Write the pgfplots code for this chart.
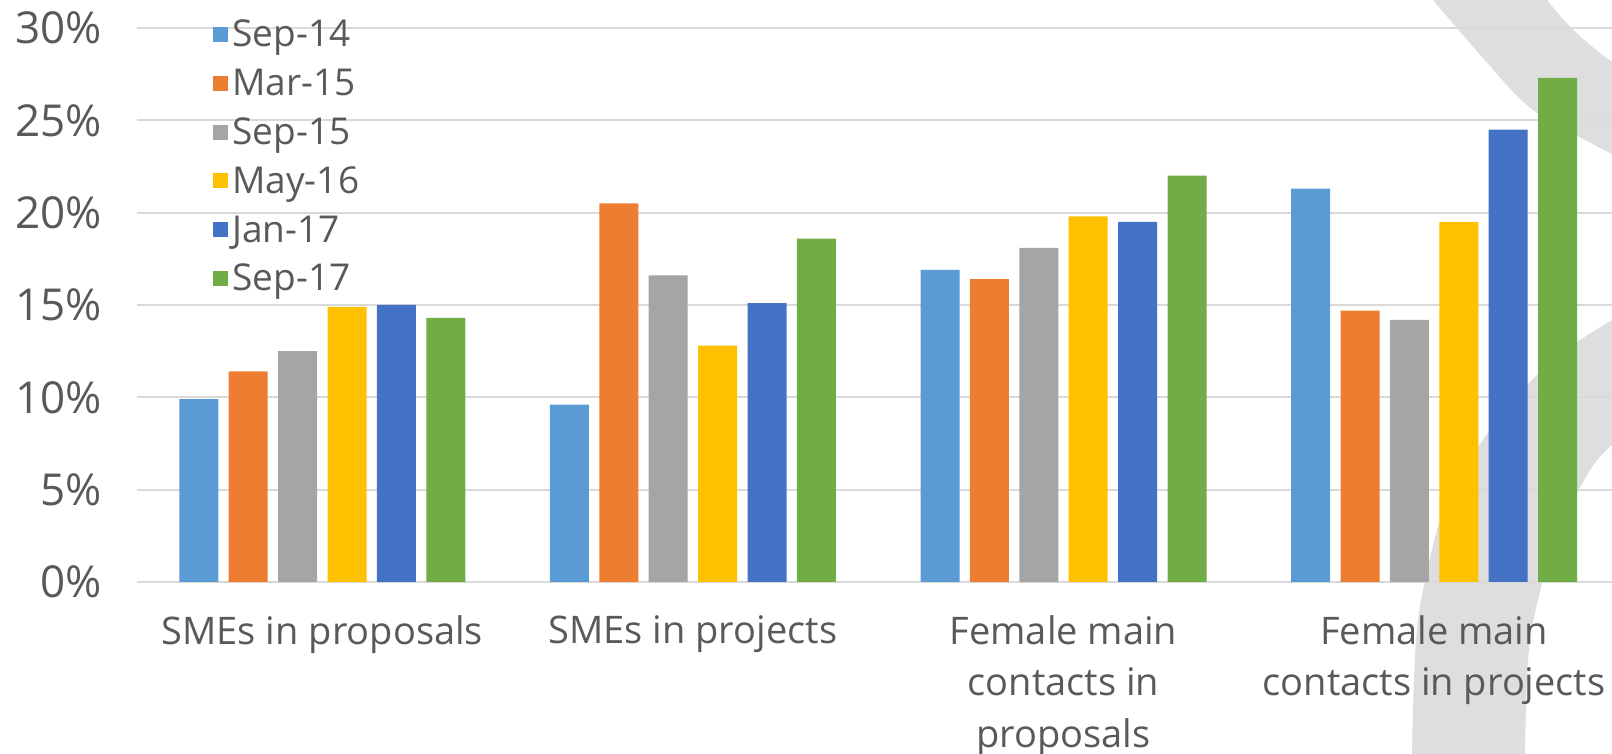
\documentclass[border=0pt]{standalone}
\usepackage{fontspec}
\setmainfont{Open Sans}
\usepackage{pgfplots}
\pgfplotsset{compat=1.18}
\usetikzlibrary{backgrounds,calc}
\definecolor{cA}{HTML}{5B9BD5}
\definecolor{cB}{HTML}{ED7D31}
\definecolor{cC}{HTML}{A5A5A5}
\definecolor{cD}{HTML}{FFC000}
\definecolor{cE}{HTML}{4472C4}
\definecolor{cF}{HTML}{70AD47}
\definecolor{txt}{HTML}{595959}
\definecolor{gridc}{HTML}{D9D9D9}
\definecolor{deco}{HTML}{DEDEDE}
\begin{document}
\begin{tikzpicture}
\begin{axis}[
  scale only axis, width=737.5pt, height=277pt,
  xmin=-0.5, xmax=3.48, ymin=0, ymax=30,
  ybar=5.2pt, bar width=19.5pt,
  axis line style={draw=none},
  tick style={draw=none},
  ymajorgrids, major grid style={gridc, line width=1pt},
  ytick={0,5,10,15,20,25,30},
  /pgf/number format/assume math mode=true,
  yticklabel={\pgfmathprintnumber{\tick}\%},
  y tick label style={font=\fontsize{22}{24}\selectfont, text=txt, xshift=-14pt},
  xtick={0,1,2,3},
  xticklabels={SMEs in proposals, SMEs in projects, {Female main\\contacts in\\proposals}, {Female main\\contacts in projects}},
  x tick label style={font=\fontsize{19}{25.7}\selectfont, text=txt, align=center, yshift=-9pt},
  legend image code/.code={\fill[#1] (-3pt,-3.75pt) rectangle (4.5pt,3.75pt);},
  legend cell align=left,
  legend style={at={(rel axis cs:0.0515,1.0117)}, anchor=north west, draw=none, fill=none,
    inner sep=0pt, row sep=11.9pt, font=\fontsize{18.5}{20}\selectfont, text=txt,
    nodes={text height=12.5pt, text depth=0pt, inner ysep=0pt}},
]
\coordinate (O) at (rel axis cs:0,0);
\addplot[fill=cA, draw=none] coordinates {(0,9.9) (1,9.6) (2,16.9) (3,21.3)};
\addplot[fill=cB, draw=none] coordinates {(0,11.4) (1,20.5) (2,16.4) (3,14.7)};
\addplot[fill=cC, draw=none] coordinates {(0,12.5) (1,16.6) (2,18.1) (3,14.2)};
\addplot[fill=cD, draw=none] coordinates {(0,14.9) (1,12.8) (2,19.8) (3,19.5)};
\addplot[fill=cE, draw=none] coordinates {(0,15.0) (1,15.1) (2,19.5) (3,24.5)};
\addplot[fill=cF, draw=none] coordinates {(0,14.3) (1,18.6) (2,22.0) (3,27.3)};
\legend{Sep-14, Mar-15, Sep-15, May-16, Jan-17, Sep-17}
\end{axis}
\coordinate (P) at ($(O)+(-68.5pt,-86pt)$);
\pgfresetboundingbox
\path[use as bounding box] (P) rectangle ++(806pt,377pt);
\begin{scope}[on background layer, shift={(P)}, x=1pt, y=1pt]
\fill[deco] plot[smooth] coordinates {(716.5,377) (741.5,348) (766.5,322) (806,300)}
  -- (806,346) .. controls (792,356) and (782,366) .. (773.5,377) -- cycle;
\fill[deco] plot[smooth] coordinates {(806,217) (775,196) (745,162) (722.5,124.5) (709,67) (706,0)}
  -- (762.5,0) -- plot[smooth] coordinates {(762.5,0) (765,57) (777.5,107) (795,142) (806,154.5)} -- cycle;
\end{scope}
\end{tikzpicture}
\end{document}
